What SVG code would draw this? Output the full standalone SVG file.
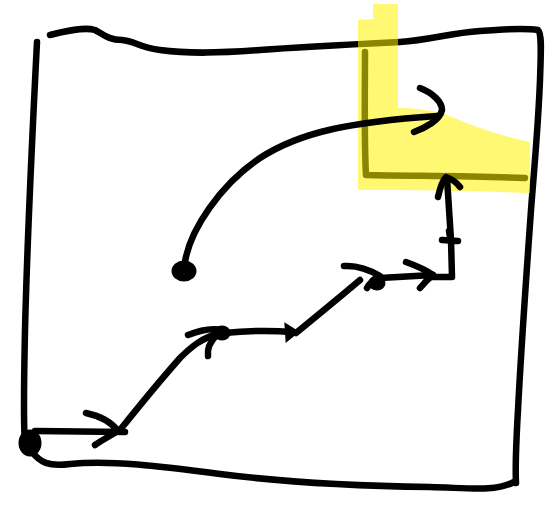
<svg xmlns="http://www.w3.org/2000/svg" width="553" height="506" viewBox="0 0 553 506">
<style>
.ink{fill:none;stroke:#000;stroke-width:6.5;stroke-linecap:round;stroke-linejoin:round}
.blob{fill:#000;stroke:#000;stroke-width:3}
.hl{fill:#fff200;opacity:0.55}
</style>
<rect width="553" height="506" fill="#fff"/>
<g id="frame">
<path class="ink" d="M37,42 C33,120 27,250 25,330 C24,380 23,420 25,445"/>
<path class="ink" d="M50,35 C70,30 85,27 95,30 C103,34 108,40 122,40 C135,41 140,48 160,50 C190,54 220,53 260,50 C300,47 360,44 400,42 C430,40 450,33 480,31 C505,29 525,28 538,30 C542,34 541,50 540,80 C538,130 534,170 531,210 C526,280 521,350 518,410 C516,445 515,465 516,483"/>
<path class="ink" d="M32,452 C40,462 48,467 70,464 C110,460 160,466 220,474 C290,483 360,486 430,487 C470,488 495,492 514,482"/>
</g>
<g id="target-box">
<path class="ink" d="M365,52 C365,90 364,140 366,175 C410,176 470,176 525,178"/>
</g>
<g id="highlight">
<path class="hl" d="M373,4 L398,4 L398,108 C412,108 428,110 442,113 C470,125 500,136 530,142 L530,193 C480,191 420,190 358,190 L358,20 L373,19 Z"/>
</g>
<g id="start">
<ellipse class="blob" cx="30" cy="443" rx="10" ry="12"/>
</g>
<g id="origin">
<ellipse class="blob" cx="184" cy="271" rx="11" ry="9"/>
</g>
<g id="connectors">
<path class="ink" d="M35,431 L125,432"/>
<path class="ink" d="M86,413 C100,416 112,423 118,431 C110,436 102,440 95,445"/>
<path class="ink" d="M120,430 C140,405 165,375 180,358 C192,346 202,338 220,333"/>
<path class="ink" d="M188,335 C200,330 212,328 222,330 M208,356 C207,348 210,342 216,336"/>
<ellipse class="blob" cx="222" cy="333" rx="7" ry="6"/>
<path class="ink" d="M224,333 C245,331 268,330 292,332"/>
<path class="blob" d="M286,325 L297,332 L287,340 Z"/>
<path class="ink" d="M296,333 C318,315 340,297 360,280"/>
<path class="ink" d="M344,266 C358,265 370,270 380,276 M367,288 C370,283 373,280 377,278"/>
<ellipse class="blob" cx="377" cy="283" rx="7" ry="6"/>
<path class="ink" d="M380,278 C400,277 418,276 433,275"/>
<path class="ink" d="M406,262 C417,266 426,270 433,275 C428,279 424,283 420,288"/>
<path class="ink" d="M433,277 L452,277 L451,240 L447,178"/>
<path class="ink" d="M438,197 C440,188 442,181 446,177 C452,179 457,183 460,187"/>
<path class="ink" d="M442,240 L458,241 M449,231 L451,243"/>
<path class="ink" d="M185,262 C190,230 220,185 260,158 C300,132 350,122 437,116"/>
<path class="ink" d="M420,88 C433,93 442,102 442,110 C440,120 425,128 414,132"/>
</g>
</svg>
